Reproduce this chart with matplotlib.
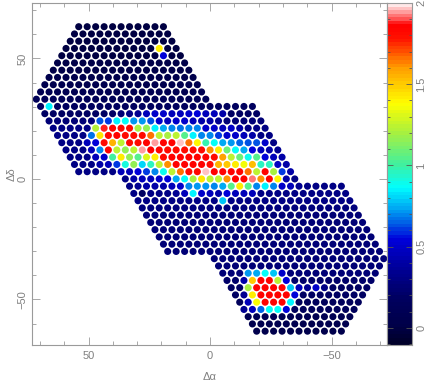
import matplotlib
matplotlib.use('Agg')
import matplotlib.pyplot as plt
import numpy as np
from matplotlib.colors import BoundaryNorm, LinearSegmentedColormap
from matplotlib.ticker import FixedLocator, FormatStrFormatter, MultipleLocator

plt.rcParams['font.family'] = ['Liberation Sans', 'DejaVu Sans']

# the three hexagonal fields, given as lattice row / half-column of their centre
field_rows = [10, 21, 32]
field_cols = [-21, 0, 21]

# usual level of each lattice row
row_level = [0.0, 0.0, 0.0, 0.0, 0.0, 0.02, 0.02, 0.03, 0.05, 0.08, 0.12,
             0.16, 0.2, 0.25, 0.3, 0.3, 0.3, 0.3, 0.3, 0.3, 0.3,
             0.3, 0.3, 0.3, 0.3, 0.28, 0.25, 0.25, 0.25, 0.25, 0.25, 0.25,
             0.25, 0.25, 0.25, 0.22, 0.2, 0.2, 0.15, 0.15, 0.08, 0.05, 0.03]

# spaxels that stand out: row -> (first half-column, values every second half-column)
bright = {
    3: (-12, [1.42]),
    4: (-11, [0.55]),
    11: (-38, [0.85]),
    12: (-21, [0.25, 0.3, 0.35, 0.45, 0.5, 0.5, 0.45, 0.45, 0.5, 0.55, 0.45, 0.45, 0.42]),
    13: (-26, [0.62, 0.6, 0.85, 0.87, 0.72, 0.72, 0.62, 0.5, 0.45, 0.5, 0.5, 0.45, 0.4, 0.4, 0.35]),
    14: (-27, [1.22, 1.88, 1.85, 1.83, 1.82, 1.2, 1.15, 0.85, 0.75, 0.7, 0.68, 0.7, 0.7, 0.5, 0.5,
               0.45, 0.5, 0.4]),
    15: (-28, [0.68, 1.45, 1.83, 1.85, 1.82, 1.82, 1.82, 1.65, 1.25, 1.2, 1.25, 1.05, 0.85, 0.7,
               0.7, 0.6, 0.5, 0.5, 0.45, 0.4]),
    16: (-29, [0.45, 0.55, 1.82, 1.55, 1.25, 1.82, 1.82, 1.85, 1.95, 1.85, 1.85, 1.97, 1.65, 1.4,
               0.98, 0.88, 0.75, 0.72, 0.65, 0.62, 0.62, 0.5]),
    17: (-28, [0.45, 0.7, 1.83, 1.25, 1.15, 1.25, 1.95, 1.85, 1.83, 1.82, 1.82, 1.82, 1.82, 1.82,
               1.62, 1.42, 1.1, 0.87, 0.75, 0.55, 0.45, 0.42, 0.35]),
    18: (-27, [0.45, 0.5, 1.0, 1.42, 1.15, 1.05, 1.3, 1.42, 1.82, 1.85, 1.85, 1.85, 1.85, 1.85,
               1.82, 1.6, 1.25, 1.1, 0.9, 1.05, 0.55, 0.45, 0.4, 0.35]),
    19: (-26, [0.4, 0.45, 0.6, 0.92, 1.15, 0.8, 0.95, 1.25, 1.62, 1.85, 1.85, 1.85, 1.85, 1.82,
               1.55, 1.5, 1.42, 1.35, 1.52, 0.95, 0.95, 0.48, 0.42]),
    20: (-21, [0.45, 0.45, 0.55, 0.6, 0.7, 0.9, 1.25, 1.65, 1.82, 1.82, 1.97, 1.85, 1.85, 1.85,
               1.83, 1.65, 1.25, 1.85, 1.2, 0.6, 0.4]),
    21: (-18, [0.4, 0.45, 0.45, 0.5, 0.55, 0.75, 0.87, 1.2, 1.45, 1.25, 1.25, 1.62, 1.85, 1.85,
               1.92, 1.62, 1.85, 1.4, 0.42]),
    22: (-17, [0.35, 0.4, 0.42, 0.42, 0.45, 0.5, 0.7, 0.72, 0.72, 0.7, 0.75, 1.05, 1.42, 1.05,
               0.7, 0.85, 0.7, 0.5, 0.45, 0.35]),
    23: (-16, [0.2, 0.3, 0.3, 0.3, 0.35, 0.45, 0.85, 0.5, 0.45, 0.42, 0.55, 0.45, 0.45, 0.45]),
    24: (3, [0.78]),
    34: (9, [0.72, 0.75, 0.87, 0.78, 0.5]),
    35: (8, [0.4, 1.5, 1.85, 1.85, 1.25, 0.55]),
    36: (9, [1.2, 1.85, 1.85, 1.85, 1.85, 0.78, 0.45, 0.35, 0.5, 0.3]),
    37: (8, [0.35, 1.42, 1.85, 1.85, 1.85, 1.85, 0.55]),
    38: (9, [0.45, 1.38, 1.85, 1.85, 1.85, 0.85]),
    39: (8, [0.35, 0.45, 0.65, 0.87, 0.87, 0.55]),
}

# colour bar: value, colour
colour_values = [-0.105, 0.0, 0.17, 0.37, 0.54, 0.62, 0.7, 0.86, 1.0, 1.2, 1.38, 1.6, 1.79, 1.87, 1.93, 2.0]
colour_names = ['#00002a', '#000048', '#000060', '#00009c', '#0000dc', '#0050e4', '#0090f0',
                '#00ffff', '#40f0a0', '#a8f040', '#ffff00', '#ffa000', '#ff1000', '#ff0000',
                '#ff8080', '#ffe8e8']

vmin, vmax = -0.105, 2.0
half_col = 1.743
row_step = 3.008

# collect the lattice points of the three fields
points = set()
for r0, c0 in zip(field_rows, field_cols):
    for d in range(-10, 11):
        w = 20 - abs(d)
        for c in range(c0 - w, c0 + w + 1, 2):
            points.add((r0 + d, c))

values = {(r, c): row_level[r] for r, c in points}
for r, (first, vals) in bright.items():
    for i, v in enumerate(vals):
        if (r, first + 2 * i) in values:
            values[(r, first + 2 * i)] = v

keys = sorted(values)
# east is to the left, so the sky offset grows against the column number
xs = np.array([-k[1] * half_col for k in keys])
ys = np.array([(21 - k[0]) * row_step for k in keys])
zs = np.array([values[k] for k in keys])

nodes = [(v - vmin) / (vmax - vmin) for v in colour_values]
cmap = LinearSegmentedColormap.from_list('pg', list(zip(nodes, colour_names)), N=256)
levels = np.linspace(vmin, vmax, 97)
norm = BoundaryNorm(levels, 256)

W, H = 429, 382
fig = plt.figure(figsize=(W / 100, H / 100), dpi=100)
ax = fig.add_axes([32 / W, 1 - 345 / H, 355 / W, 342 / H])
ax.scatter(xs, ys, c=zs, cmap=cmap, norm=norm, s=26, linewidths=0, zorder=2)
ax.set_xlim(73.25, -72.8)
ax.set_ylim(-68.9, 73.0)

grey = '#9a9a9a'
txt = '#808080'
ax.xaxis.set_major_locator(MultipleLocator(50))
ax.xaxis.set_minor_locator(MultipleLocator(10))
ax.yaxis.set_major_locator(MultipleLocator(50))
ax.yaxis.set_minor_locator(MultipleLocator(10))
ax.tick_params(which='major', direction='in', top=True, right=True, length=5.5, width=0.6,
               color=grey, labelcolor=txt, labelsize=8, pad=4)
ax.tick_params(which='minor', direction='in', top=True, right=True, length=2.6, width=0.6, color=grey)
ax.tick_params(axis='y', labelrotation=90, pad=3)
for lab in ax.get_yticklabels():
    lab.set_va('center')
for s in ax.spines.values():
    s.set_color(grey)
    s.set_linewidth(0.8)
ax.set_xlabel('Δα', color=txt, fontsize=8, labelpad=8)
ax.set_ylabel('Δδ', color=txt, fontsize=8, labelpad=1)

# colour bar with its own bands
cax = fig.add_axes([387 / W, 1 - 345 / H, 25 / W, 342 / H])
grad = np.linspace(vmin, vmax, 96)[:, None]
cax.imshow(grad, origin='lower', aspect='auto', extent=[0, 1, vmin, vmax], cmap=cmap, norm=norm,
           interpolation='nearest')
cax.set_xticks([])
cax.yaxis.set_major_locator(FixedLocator([0, 0.5, 1, 1.5, 2]))
cax.yaxis.set_major_formatter(FormatStrFormatter('%g'))
cax.yaxis.set_minor_locator(MultipleLocator(0.1))
cax.yaxis.tick_right()
cax.tick_params(which='major', direction='in', left=True, right=True, length=4, width=0.6,
                color='#555555', labelcolor=txt, labelsize=8, pad=3)
cax.tick_params(which='minor', direction='in', left=True, right=True, length=2, width=0.6, color='#555555')
cax.tick_params(axis='y', labelrotation=90)
for lab in cax.get_yticklabels():
    lab.set_va('center')
for s in cax.spines.values():
    s.set_color(grey)
    s.set_linewidth(0.8)

fig.savefig('out.png', dpi=100)
